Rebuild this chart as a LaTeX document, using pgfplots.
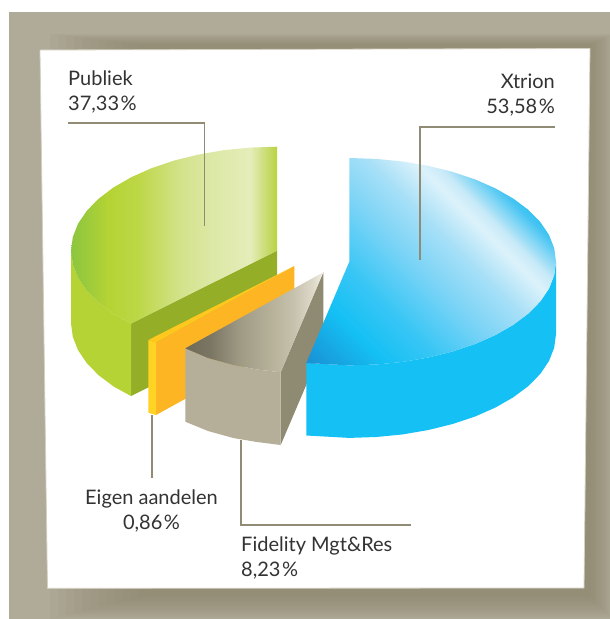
\documentclass[border=0pt]{standalone}
\usepackage{pgfplots}
\pgfplotsset{compat=1.18}
\usepackage{fontspec}
\setmainfont{Lato}
\definecolor{bgc}{HTML}{B0AA99}
\definecolor{shadowc}{HTML}{8C856C}
\definecolor{edgec}{HTML}{D4D1C2}
\definecolor{linec}{HTML}{8F8B75}
\definecolor{txt}{HTML}{333333}
\definecolor{ga}{HTML}{8CC63F}\definecolor{gb}{HTML}{9CCB3B}\definecolor{gc}{HTML}{B5D334}\definecolor{gd}{HTML}{BCD745}
\definecolor{ge}{HTML}{D3E28A}\definecolor{gf}{HTML}{DCE8A5}\definecolor{gg}{HTML}{E5EDB9}\definecolor{gh}{HTML}{C8DB70}\definecolor{gi}{HTML}{B9D43F}
\definecolor{ta}{HTML}{6E6A58}\definecolor{tb}{HTML}{7A7663}\definecolor{tc}{HTML}{A09B85}\definecolor{td}{HTML}{B9B39C}
\definecolor{te}{HTML}{C6C1AC}\definecolor{tf}{HTML}{DEDACB}\definecolor{tg}{HTML}{F0EEE6}
\definecolor{ba}{HTML}{1A8CD0}\definecolor{bb}{HTML}{1A90D4}\definecolor{bc}{HTML}{14C0F4}\definecolor{bd}{HTML}{38C6F5}\definecolor{be}{HTML}{75D2F6}
\definecolor{bf}{HTML}{A8E0F7}\definecolor{bg}{HTML}{DCF2FB}\definecolor{bh}{HTML}{C8EAF8}\definecolor{bi}{HTML}{45C4F2}
\pgfdeclarehorizontalshading{greentop}{100bp}{
 color(0bp)=(ga);color(25bp)=(ga);color(29bp)=(gb);color(34bp)=(gc);color(41bp)=(gd);
 color(51.5bp)=(ge);color(59bp)=(gf);color(68.5bp)=(gg);color(72.5bp)=(gh);color(75bp)=(gi);color(100bp)=(gi)}
\pgfdeclarehorizontalshading{graytop}{100bp}{
 color(0bp)=(ta);color(25bp)=(ta);color(34bp)=(tb);color(45bp)=(tc);color(57bp)=(td);
 color(64bp)=(te);color(71.4bp)=(tf);color(75bp)=(tg);color(100bp)=(tg)}
\pgfdeclarehorizontalshading{bluetop}{100bp}{
 color(0bp)=(ba);color(15bp)=(bb);color(27bp)=(bc);color(36bp)=(bd);color(46bp)=(be);
 color(56bp)=(bf);color(63bp)=(bg);color(66bp)=(bh);color(72bp)=(bi);color(76bp)=(bc);color(100bp)=(bc)}
\newcommand{\lab}[4]{\node[anchor=#1,align=#2,inner sep=0pt,font=\fontsize{20}{24.5}\selectfont,text=txt] at (axis cs:#3) {#4};}
\pgfplotsset{sh/.style={draw=none,fill=shadowc,fill opacity=.085}}
\begin{document}
\begin{tikzpicture}
\begin{axis}[scale only axis,width=610pt,height=619pt,xmin=0,xmax=610,ymin=0,ymax=619,y dir=reverse,hide axis,no markers,clip=true]
% page and frame
\addplot[draw=none,fill=white] coordinates {(0,0)(610,0)(610,619)(0,619)};
\addplot[draw=none,fill=bgc] coordinates {(9,12)(610,12)(610,619)(9,619)};
% soft shadow of the panel
\addplot[sh] coordinates {(50,34)(610,34)(610,619)(50,619)};
\addplot[sh] coordinates {(58,35)(610,35)(610,617)(58,617)};
\addplot[sh] coordinates {(66,36)(609,36)(609,615)(66,615)};
\addplot[sh] coordinates {(74,37)(607,37)(607,613)(74,613)};
\addplot[sh] coordinates {(82,38)(605,38)(605,611)(82,611)};
\addplot[sh] coordinates {(90,39)(603,39)(603,609)(90,609)};
\addplot[sh] coordinates {(98,40)(601,40)(601,607)(98,607)};
\addplot[sh] coordinates {(106,41)(599,41)(599,605)(106,605)};
\addplot[sh] coordinates {(114,42)(597,42)(597,603)(114,603)};
\addplot[sh] coordinates {(122,43)(595,43)(595,601)(122,601)};
\addplot[sh] coordinates {(130,44)(593,44)(593,599)(130,599)};
\addplot[sh] coordinates {(138,45)(591,45)(591,597)(138,597)};
\addplot[draw=edgec,line width=.8pt,fill=white] coordinates {(40,50)(590,48.5)(584,588)(47.5,588.3)(40,50)};
% Publiek: inner cut, rim, top
\addplot[draw=none,fill={rgb,255:red,148;green,174;blue,40}] coordinates {(277,250.7)(277,323.2)(131,396)(131,323.5)};
\addplot[draw=none,fill={rgb,255:red,181;green,211;blue,52}] coordinates {(71,250.7)(72.8,264.3)(78,277.6)(86.7,290.5)(98.6,302.7)(113.6,314)(131,323.5)(131,396)(113.6,386.5)(98.6,375.2)(86.7,363)(78,350.1)(72.8,336.8)(71,323.2)};
\addplot[draw=none,shade,shading=greentop] coordinates {(277,146.7)(250.1,147.6)(223.7,150.2)(198.2,154.6)(174,160.6)(151.6,168.2)(131.3,177.2)(113.6,187.4)(98.6,198.7)(86.7,210.9)(78,223.8)(72.8,237.1)(71,250.7)(72.8,264.3)(78,277.6)(86.7,290.5)(98.6,302.7)(113.6,314)(131,323.5)(277,250.7)};
% Eigen aandelen
\addplot[draw=none,fill={rgb,255:red,253;green,181;blue,36}] coordinates {(156,342.3)(294.3,266)(294.3,338.7)(156,415)};
\addplot[draw=none,fill={rgb,255:red,255;green,211;blue,36}] coordinates {(148.3,340)(156,342.3)(156,415)(148.3,412.7)};
\addplot[draw=none,fill={rgb,255:red,255;green,200;blue,30}] coordinates {(148.3,340)(294.3,266)(156,342.3)};
% Fidelity
\addplot[draw=none,fill={rgb,255:red,143;green,138;blue,114}] coordinates {(280.7,372.3)(323.3,272.3)(323.3,345)(280.7,445)};
\addplot[draw=none,fill={rgb,255:red,181;green,175;blue,154}] coordinates {(185.3,348.3)(208,358)(233.3,365)(257,369.5)(280.7,372.3)(280.7,445)(257,442)(233.3,438)(208,431)(185.3,421.7)};
\addplot[draw=none,shade,shading=graytop] coordinates {(185.3,348.3)(323.3,272.3)(280.7,372.3)(257,369.5)(233.3,365)(208,358)};
% Xtrion
\addplot[draw=none,fill={rgb,255:red,20;green,192;blue,244}] coordinates {(556,261.7)(554.2,275.2)(549,288.5)(540.3,301.4)(528.3,313.6)(513.3,324.8)(495.5,335)(475.1,344)(452.7,351.5)(428.4,357.5)(402.8,361.9)(376.3,364.5)(349.3,365.4)(306.3,363)(306.3,435.5)(349.3,437.9)(376.3,437)(402.8,434.4)(428.4,430)(452.7,424)(475.1,416.5)(495.5,407.5)(513.3,397.3)(528.3,386.1)(540.3,373.9)(549,361)(554.2,347.7)(556,334.2)};
\addplot[draw=none,shade,shading=bluetop,shading angle=45] coordinates {(349.3,158)(376.3,158.9)(402.8,161.5)(428.4,165.9)(452.7,171.9)(475.1,179.4)(495.5,188.4)(513.3,198.6)(528.3,209.8)(540.3,222)(549,234.9)(554.2,248.2)(556,261.7)(554.2,275.2)(549,288.5)(540.3,301.4)(528.3,313.6)(513.3,324.8)(495.5,335)(475.1,344)(452.7,351.5)(428.4,357.5)(402.8,361.9)(376.3,364.5)(349.3,365.4)(306.3,363)(349.3,261.7)};
% leader lines
\addplot[linec,line width=1.6pt] coordinates {(68,123)(204.3,123)(204.3,226)};
\addplot[linec,line width=1.6pt] coordinates {(555,127)(420,127)(420,259.5)};
\addplot[linec,line width=1.6pt] coordinates {(151.7,415)(151.7,478)};
\addplot[linec,line width=1.6pt] coordinates {(241,440)(241,525)(411,525)};
% labels
\lab{north west}{left}{68,71}{Publiek\\37,33\kern1.5pt\%}
\lab{north east}{right}{555,74}{Xtrion\\53,58\kern1.5pt\%}
\lab{north}{center}{151.5,490}{Eigen aandelen\\0,86\kern1.5pt\%}
\lab{north west}{left}{241,537}{Fidelity Mgt\&Res\\8,23\kern1.5pt\%}
\end{axis}
\end{tikzpicture}
\end{document}
